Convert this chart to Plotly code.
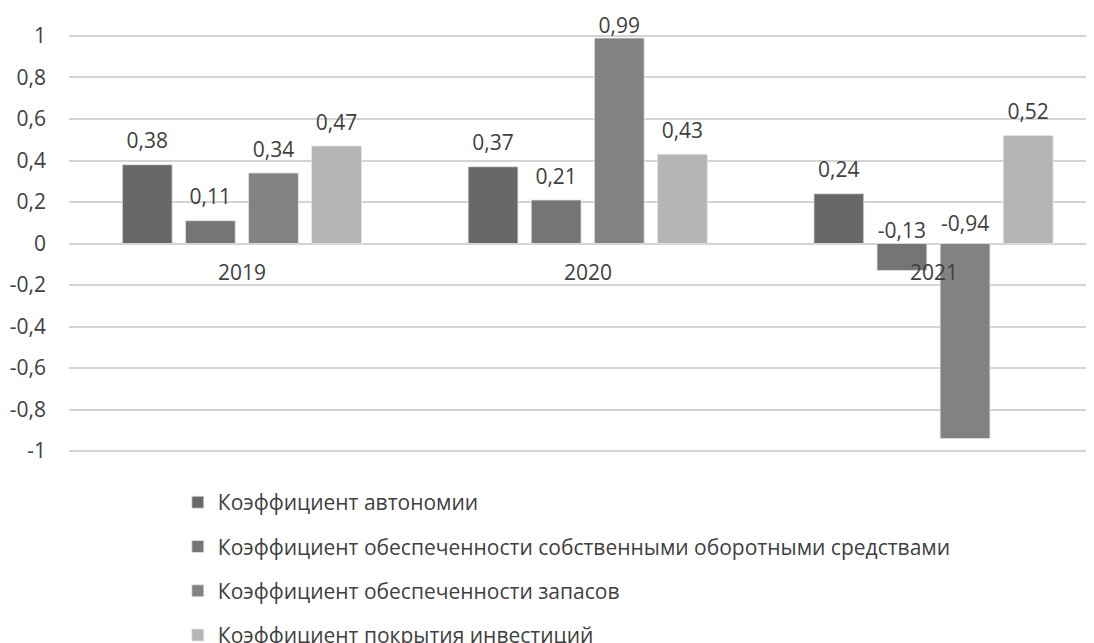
import plotly.graph_objects as go

categories = ["2019", "2020", "2021"]
series_names = [
    "Коэффициент автономии",
    "Коэффициент обеспеченности собственными оборотными средствами",
    "Коэффициент обеспеченности запасов",
    "Коэффициент покрытия инвестиций",
]
autonomy = [0.38, 0.37, 0.24]
own_working = [0.11, 0.21, -0.13]
inventory = [0.34, 0.99, -0.94]
investment = [0.47, 0.43, 0.52]
series_values = [autonomy, own_working, inventory, investment]
colors = ["#686868", "#757575", "#828282", "#b5b5b5"]

y_ticks = [1, 0.8, 0.6, 0.4, 0.2, 0, -0.2, -0.4, -0.6, -0.8, -1]
y_tick_labels = ["1", "0,8", "0,6", "0,4", "0,2", "0", "-0,2", "-0,4", "-0,6", "-0,8", "-1"]

FONT = "Open Sans"
TXT = "#404040"
FS = 21


def label_gap(v):
    # spacing of the data label above the bar end (positive) or above the axis (negative)
    if v >= 0:
        return 16 if v < 0.9 else 0
    return 0 if v > -0.5 else 10


fig = go.Figure()
xs = list(range(len(categories)))
for i, (name, vals, col) in enumerate(zip(series_names, series_values, colors)):
    fig.add_trace(go.Bar(
        x=xs, y=vals, name=name, marker=dict(color=col, line=dict(color="#e6e6e6", width=0.8)),
        offsetgroup=str(i), legendgroup=str(i),
    ))
for i, vals in enumerate(series_values):
    fig.add_trace(go.Scatter(
        x=xs, y=[max(v, 0) for v in vals], mode="markers+text",
        marker=dict(size=[label_gap(v) for v in vals], opacity=0),
        text=[f"{v:.2f}".replace(".", ",") for v in vals],
        textposition="top center", cliponaxis=False,
        textfont=dict(family=FONT, size=FS, color=TXT),
        offsetgroup=str(i), showlegend=False, hoverinfo="skip",
    ))

for xi, cat in zip(xs, categories):
    fig.add_annotation(x=xi, y=0, text=cat, showarrow=False, yanchor="top", yshift=-12,
                       font=dict(family=FONT, size=FS, color=TXT))

fig.update_layout(
    width=1078, height=643,
    margin=dict(l=61, r=0, t=12, b=191, autoexpand=False),
    plot_bgcolor="white", paper_bgcolor="white",
    barmode="group", bargap=0.27, bargroupgap=0.21, scattermode="group",
    font=dict(family=FONT, size=FS, color=TXT),
    xaxis=dict(range=[-0.5, 2.441], showticklabels=False, showgrid=False, zeroline=False,
               showline=False, ticks=""),
    yaxis=dict(range=[-1.043, 1.077], tickvals=y_ticks, ticktext=y_tick_labels,
               showgrid=True, gridcolor="#d4d4d4", gridwidth=2, zeroline=False,
               ticks="", ticklabelstandoff=22, tickfont=dict(family=FONT, size=FS, color=TXT)),
    legend=dict(orientation="v", x=0.107, xanchor="left", y=-0.05, yanchor="top",
                tracegroupgap=14, font=dict(family=FONT, size=FS, color=TXT),
                itemwidth=30, bgcolor="rgba(0,0,0,0)"),
    showlegend=True,
)

fig.write_html("out.html")
